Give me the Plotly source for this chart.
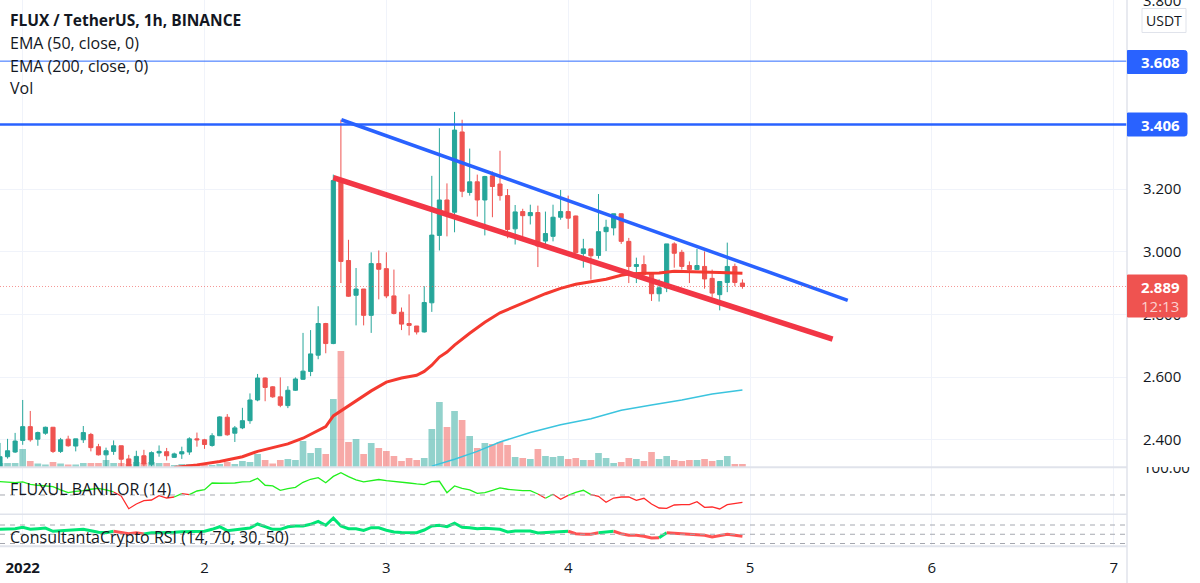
import pandas as pd
import plotly.graph_objects as go

# hourly bars, first one is 2021-12-31 21:00
first_bar = "2021-12-31 21:00"

opens = [2.311,2.346,2.361,2.398,2.442,2.402,2.421,2.440,2.363,2.402,
         2.380,2.400,2.417,2.378,2.352,2.363,2.381,2.339,2.313,2.349,
         2.322,2.358,2.362,2.344,2.355,2.361,2.403,2.400,2.382,2.413,
         2.472,2.421,2.438,2.461,2.527,2.597,2.569,2.537,2.509,2.558,
         2.593,2.618,2.670,2.771,2.707,3.227,2.972,2.861,2.881,2.797,
         2.962,2.946,2.859,2.807,2.771,2.763,2.744,2.837,3.052,3.165,
         3.126,3.382,3.189,3.223,3.165,3.242,3.216,3.179,3.073,3.128,
         3.115,3.125,3.034,3.049,3.110,3.128,3.114,2.994,3.009,2.988,
         3.064,3.076,3.121,3.033,2.953,2.959,2.930,2.866,2.884,3.025,
         2.998,2.956,2.943,2.953,2.915,2.863,2.902,2.953,2.900]
highs = [2.390,2.403,2.422,2.527,2.492,2.426,2.442,2.441,2.406,2.413,
         2.403,2.444,2.422,2.387,2.375,2.398,2.381,2.352,2.365,2.368,
         2.363,2.382,2.374,2.359,2.378,2.408,2.423,2.403,2.421,2.475,
         2.482,2.444,2.502,2.548,2.610,2.599,2.571,2.599,2.571,2.599,
         2.741,2.750,2.826,2.773,3.246,3.421,3.038,2.948,2.881,2.998,
         3.004,2.998,2.943,2.822,2.864,2.763,2.890,3.242,3.394,3.218,
         3.446,3.421,3.329,3.246,3.242,3.256,3.322,3.200,3.149,3.137,
         3.150,3.147,3.128,3.150,3.197,3.179,3.115,3.041,3.009,3.184,
         3.102,3.121,3.122,3.044,2.981,2.988,2.931,2.912,3.025,3.030,
         3.006,2.969,3.009,3.001,2.943,2.905,3.029,2.962,2.912]
lows = [2.304,2.340,2.358,2.384,2.394,2.381,2.416,2.358,2.358,2.378,
        2.363,2.390,2.363,2.350,2.314,2.352,2.314,2.304,2.304,2.314,
        2.314,2.346,2.334,2.343,2.339,2.352,2.378,2.371,2.378,2.412,
        2.413,2.393,2.434,2.451,2.523,2.523,2.534,2.504,2.501,2.556,
        2.591,2.603,2.657,2.676,2.705,2.900,2.856,2.765,2.765,2.741,
        2.848,2.852,2.800,2.750,2.733,2.736,2.742,2.808,3.004,3.049,
        3.062,3.174,3.179,3.112,3.052,3.110,3.163,3.043,3.023,3.049,
        3.087,2.951,3.015,3.033,3.102,3.073,2.994,2.949,2.911,2.978,
        3.002,3.052,3.025,2.900,2.900,2.919,2.843,2.841,2.871,2.949,
        2.943,2.900,2.943,2.882,2.854,2.813,2.871,2.890,2.882]
closes = [2.346,2.365,2.396,2.442,2.400,2.423,2.440,2.363,2.400,2.381,
          2.403,2.423,2.375,2.352,2.365,2.381,2.338,2.313,2.347,2.323,
          2.359,2.363,2.349,2.355,2.362,2.403,2.400,2.385,2.413,2.473,
          2.416,2.438,2.461,2.527,2.597,2.567,2.537,2.510,2.558,2.594,
          2.619,2.674,2.771,2.707,3.227,2.969,2.858,2.881,2.797,2.962,
          2.944,2.859,2.803,2.769,2.765,2.744,2.838,3.053,3.165,3.126,
          3.388,3.193,3.223,3.165,3.240,3.208,3.179,3.071,3.127,3.115,
          3.125,3.018,3.058,3.110,3.128,3.107,2.997,3.009,2.987,3.064,
          3.078,3.121,3.033,2.953,2.959,2.928,2.866,2.885,3.025,2.995,
          2.953,2.943,2.956,2.913,2.868,2.905,2.953,2.902,2.889]
volumes = [4,4,4,18,6,3.5,2.5,5,3.5,2.5,
           2.5,4,4,4,7,4,4,3,5,4,
           5,4,4,2,3,3,2,2,2,3,
           5,3,6,5,13,7,3.5,7,8,7,
           26,14,19,13,68,116,25,28,13,24,
           19,16,11,6,9,7,9,38,65,40,
           56,47,31,19,24,23,25,22,10,9,
           8,18,11,10,11,8,9,7,7,14,
           9,4,5,9,8,6,15,8,11,7,
           6,7,7,8,6,7,11,3,3]

# hours counted from 2022-01-01 00:00
ema50_hours = [20,23,26,29,31,33,35,37,39,40,41,42,44,46,48,50,52,53,54,55,56,57,59,61,63,65,67,69,71,73,75,77,79,80,82,84,86,88,90,92,95]
ema50_values = [2.312,2.320,2.331,2.346,2.363,2.374,2.387,2.405,2.428,2.442,2.476,2.492,2.522,2.556,2.584,2.597,2.606,2.618,2.638,2.664,2.680,2.702,2.740,2.775,2.805,2.826,2.845,2.866,2.883,2.896,2.904,2.912,2.925,2.929,2.931,2.932,2.938,2.937,2.937,2.934,2.931]
ema200_hours = [54,57,60,63,67,71,75,79,83,87,91,95]
ema200_values = [2.316,2.338,2.363,2.393,2.423,2.448,2.467,2.494,2.511,2.527,2.546,2.559]

flux_values = [74.6,73.7,72.8,74.1,69.8,68.0,66.7,65.4,59.3,54.3,
               56.8,58.0,60.6,62.4,59.3,55.6,48.1,24.6,33.3,39.4,
               40.7,48.7,44.4,46.3,52.4,50.6,57.4,59.8,72.2,71.7,
               71.7,72.2,74.1,74.6,80.9,68.0,66.7,58.7,61.7,64.3,
               73.5,79.1,82.0,72.8,84.4,91.3,83.9,78.1,74.4,77.2,
               78.7,76.5,74.6,73.5,72.2,70.4,69.1,74.6,75.4,54.3,
               66.7,62.4,59.3,53.1,54.3,58.7,63.0,60.6,58.7,58.0,
               58.0,51.8,43.9,51.3,42.0,49.4,55.0,58.7,50.6,47.6,
               36.5,44.4,46.3,46.3,40.2,43.9,33.3,25.9,25.4,31.5,
               32.0,32.0,37.6,27.2,27.8,24.1,32.0,34.6,36.5]
flux_red_runs = [(12,20),(21,22),(68,69),(70,72),(75,95)]

rsi_values = [60.7,61.4,62.0,65.0,60.7,62.0,63.5,56.4,57.7,58.5,
              59.2,60.7,57.7,54.2,53.4,56.4,53.4,51.2,53.4,50.5,
              53.4,53.4,53.4,54.2,55.5,55.5,54.9,56.4,60.7,66.3,
              57.7,59.2,61.4,63.5,72.2,66.3,60.7,60.7,66.3,67.8,
              67.8,71.5,78.0,69.4,84.7,67.8,62.0,62.0,58.1,64.2,
              63.9,58.8,55.1,54.0,53.4,53.4,59.2,67.8,69.4,66.3,
              73.7,65.0,64.2,62.0,62.9,62.0,60.7,54.9,57.0,57.0,
              57.0,52.7,53.4,54.9,56.4,56.4,51.2,49.9,49.9,53.4,
              54.9,56.4,51.2,47.7,47.7,45.6,41.9,42.5,53.4,52.1,
              50.5,49.0,49.0,47.7,44.1,46.9,49.9,47.7,45.6]
rsi_red_runs = [(12,16),(72,76),(78,84),(85,95)]

# 3.4 and 3.6 sit behind the blue level labels in the picture
price_ticks = [2.4,2.6,2.8,3.0,3.2,3.8]
day_ticks = ["2022-01-01","2022-01-02","2022-01-03","2022-01-04","2022-01-05","2022-01-06","2022-01-07"]
day_labels = ["<b>2022</b>","2","3","4","5","6","7"]

levels = [3.608, 3.406]
blue_trend_x = ["2022-01-02 18:04","2022-01-05 12:54"]
blue_trend_y = [3.421, 2.845]
red_trend_x = ["2022-01-02 17:00","2022-01-05 10:54"]
red_trend_y = [3.236, 2.721]

GREEN = "#26a69a"
RED = "#ef5350"
BLUE = "#2962ff"
INK = "#131722"
FONT = "Open Sans"

W, H = 1200, 583
def px(x): return x / W
def py(y): return 1 - y / H

times = pd.date_range(first_bar, periods=len(opens), freq="h")
def at(hours):
    return [pd.Timestamp("2022-01-01") + pd.Timedelta(hours=h) for h in hours]
hours = list(range(-3, len(opens) - 3))

fig = go.Figure()

vol_colors = ["rgba(38,166,154,0.5)" if c >= o else "rgba(239,83,80,0.5)" for o, c in zip(opens, closes)]
fig.add_trace(go.Bar(x=times, y=volumes, marker=dict(color=vol_colors, line_width=0), yaxis="y"))

fig.add_trace(go.Candlestick(x=times, open=opens, high=highs, low=lows, close=closes, yaxis="y2",
    increasing=dict(line=dict(color=GREEN, width=1), fillcolor=GREEN),
    decreasing=dict(line=dict(color=RED, width=1), fillcolor=RED)))
fig.add_trace(go.Scatter(x=at(ema200_hours), y=ema200_values, yaxis="y2", mode="lines",
    line=dict(color="#3bc4de", width=1.5)))
fig.add_trace(go.Scatter(x=at(ema50_hours), y=ema50_values, yaxis="y2", mode="lines",
    line=dict(color="#f4392f", width=3)))
fig.add_trace(go.Scatter(x=blue_trend_x, y=blue_trend_y, yaxis="y2", mode="lines",
    line=dict(color="#2962ff", width=3.5)))
fig.add_trace(go.Scatter(x=red_trend_x, y=red_trend_y, yaxis="y2", mode="lines",
    line=dict(color="#f23645", width=5.5)))

# oscillators change colour, so each one is split in runs
def add_runs(values, red_runs, axis, green, red, width):
    cuts = [hours[0]]
    for a, b in red_runs:
        cuts += [a, b]
    cuts.append(hours[-1])
    is_red = False
    for a, b in zip(cuts[:-1], cuts[1:]):
        if b > a:
            i0, i1 = a - hours[0], b - hours[0] + 1
            fig.add_trace(go.Scatter(x=times[i0:i1], y=values[i0:i1], yaxis=axis, mode="lines",
                line=dict(color=red if is_red else green, width=width)))
        is_red = not is_red

add_runs(flux_values, flux_red_runs, "y3", "#22f01e", "#ff2a2a", 1.3)
add_runs(rsi_values, rsi_red_runs, "y4", "#00e676", "#ff5252", 3)

shapes = []
# horizontal levels and last price
shapes.append(dict(type="line", xref="paper", x0=0, x1=px(1127), yref="y2", y0=levels[0], y1=levels[0],
                   line=dict(color="#2e6bff", width=1)))
shapes.append(dict(type="line", xref="paper", x0=0, x1=px(1127), yref="y2", y0=levels[1], y1=levels[1],
                   line=dict(color=BLUE, width=2.5)))
shapes.append(dict(type="line", xref="paper", x0=0, x1=px(1127), yref="y2", y0=closes[-1], y1=closes[-1],
                   line=dict(color="rgba(239,83,80,0.6)", width=1, dash="1px,2px")))
for axis, v in [("y3", 50), ("y4", 70), ("y4", 50), ("y4", 30)]:
    shapes.append(dict(type="line", xref="paper", x0=0, x1=px(1127), yref=axis, y0=v, y1=v,
                       line=dict(color="#a5a8b0", width=1, dash="5px,5px")))

# hides the top half of the 100.00 label, like the pane edge does
shapes.append(dict(type="rect", xref="paper", yref="paper", x0=px(1128), x1=1, y0=py(467), y1=py(450),
                   fillcolor="white", line_width=0, layer="above"))
# pane separators and price scale edge
for y in [467.3, 514.3, 546.3]:
    shapes.append(dict(type="line", xref="paper", yref="paper", x0=0, x1=px(1127), y0=py(y), y1=py(y),
                       line=dict(color="#e0e3eb", width=2 if y != 514.3 else 1.5), layer="above"))
shapes.append(dict(type="line", xref="paper", yref="paper", x0=px(1127), x1=px(1127), y0=0, y1=1,
                   line=dict(color="#e0e3eb", width=1.5), layer="above"))

def label_box(y0, y1, color, x0=1127.5, x1=1187, r=2.5, line=None):
    path = (f"M {px(x0)} {py(y0)} L {px(x1-r)} {py(y0)} Q {px(x1)} {py(y0)} {px(x1)} {py(y0+r)} "
            f"L {px(x1)} {py(y1-r)} Q {px(x1)} {py(y1)} {px(x1-r)} {py(y1)} L {px(x0)} {py(y1)} Z")
    return dict(type="path", xref="paper", yref="paper", path=path, fillcolor=color,
                line=dict(color=line or color, width=1), layer="above")

shapes.append(label_box(50.5, 73.5, BLUE))
shapes.append(label_box(113, 136, BLUE))
shapes.append(label_box(275, 317, RED))
shapes.append(dict(type="rect", xref="paper", yref="paper", x0=px(1142), x1=px(1186), y0=py(32.5), y1=py(8.5),
                   fillcolor="white", line=dict(color="#e0e3eb", width=1), layer="above"))

def text(x, y, s, size=16, color=INK, anchor="left"):
    return dict(text=s, xref="paper", yref="paper", x=px(x), y=py(y), xanchor=anchor, yanchor="middle",
                showarrow=False, font=dict(family=FONT, size=size, color=color))

annotations = [
    text(8, 20, "<b>FLUX / TetherUS, 1h, BINANCE</b>", 15.5),
    text(8, 43, "EMA (50, close, 0)"),
    text(8, 66, "EMA (200, close, 0)"),
    text(8, 88, "Vol"),
    text(8, 489, "FLUXUL BANILOR (14)"),
    text(8, 537, "ConsultantaCrypto RSI (14, 70, 30, 50)"),
    text(1164, 20, "USDT", 14, anchor="center"),
    text(1160, 62, "<b>3.608</b>", 15, "white", "center"),
    text(1160, 124.5, "<b>3.406</b>", 15, "white", "center"),
    text(1160, 287, "<b>2.889</b>", 15, "white", "center"),
    text(1160, 306, "12:13", 15, "#fbd0cf", "center"),
]

fig.update_layout(
    width=W, height=H, margin=dict(l=0, r=0, t=0, b=0),
    paper_bgcolor="white", plot_bgcolor="white",
    showlegend=False, bargap=0.12, boxgap=0.22, shapes=shapes, annotations=annotations,
    font=dict(family=FONT, size=15, color=INK),
    xaxis=dict(domain=[0, px(1127)], range=["2021-12-31 21:00:14", "2022-01-07 01:45:36"],
               anchor="y4", rangeslider=dict(visible=False), tickmode="array", automargin=False,
               tickvals=day_ticks, ticktext=day_labels, ticks="outside", ticklen=8,
               tickcolor="rgba(0,0,0,0)", showgrid=True, gridcolor="#f0f3fa", gridwidth=1,
               showline=False, zeroline=False),
    yaxis=dict(domain=[py(467), 1], range=[0, 467], visible=False, automargin=False),
    yaxis2=dict(overlaying="y", side="right", range=[2.3132, 3.803], tickmode="array", automargin=False,
                tickvals=price_ticks, ticktext=[f"{v:.3f}" for v in price_ticks], ticklabeloverflow="allow",
                ticks="outside", ticklen=12, tickcolor="rgba(0,0,0,0)",
                showgrid=True, gridcolor="#f0f3fa", zeroline=False, showline=False),
    yaxis3=dict(domain=[py(514), py(467.5)], range=[14.8, 100.9], side="right", tickmode="array", automargin=False,
                tickvals=[100], ticktext=["100.00"], ticks="outside", ticklen=12,
                tickcolor="rgba(0,0,0,0)", showgrid=False, zeroline=False, anchor="x"),
    yaxis4=dict(domain=[py(546), py(514.5)], range=[24.6, 92.7], side="right", showticklabels=False, automargin=False,
                showgrid=False, zeroline=False, anchor="x"),
)

# the page must not add its default margin around the plot
fig.write_html("out.html", config=dict(displayModeBar=False),
               post_script="document.body.style.margin='0';document.documentElement.style.overflow='hidden';")
